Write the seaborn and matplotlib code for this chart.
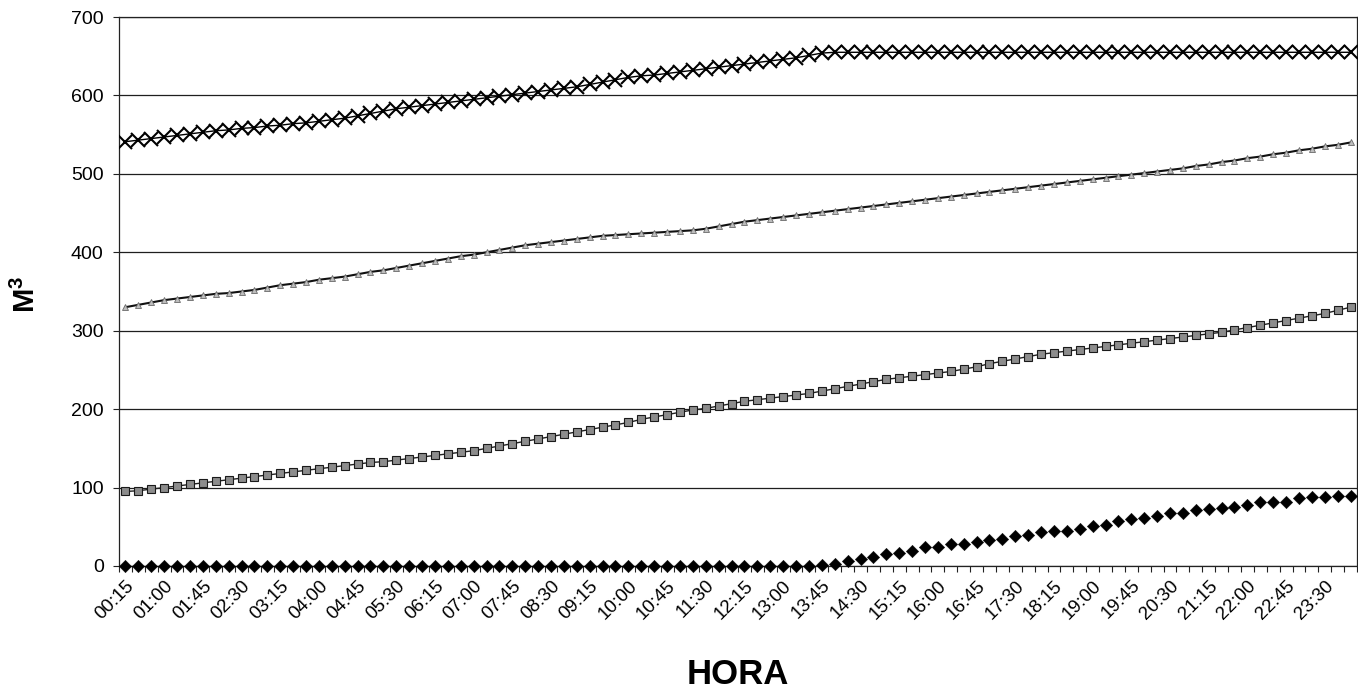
import numpy as np
import pandas as pd
import matplotlib
matplotlib.use("Agg")
import matplotlib.pyplot as plt
import seaborn as sns

# ---- data -------------------------------------------------------------
hora = [f"{(15 * (i + 1)) // 60 % 24:02d}:{(15 * (i + 1)) % 60:02d}" for i in range(96)]

serie_x = [541, 543, 545, 547, 549, 551, 553, 555, 556, 558, 559, 561,
           562, 564, 565, 567, 569, 571, 574, 577, 580, 583, 585, 587,
           589, 591, 593, 595, 597, 599, 601, 603, 605, 607, 609, 611,
           614, 617, 620, 623, 625, 626, 628, 630, 632, 634, 636, 638,
           640, 642, 644, 646, 648, 651, 654, 655, 655, 655, 655, 655,
           655, 655, 655, 655, 655, 655, 655, 655, 655, 655, 655, 655,
           655, 655, 655, 655, 655, 655, 655, 655, 655, 655, 655, 655,
           655, 655, 655, 655, 655, 655, 655, 655, 655, 655, 655, 655]

serie_tri = [330, 333, 336, 339, 341, 343, 345, 347, 348, 350, 352, 355,
             358, 360, 362, 365, 367, 369, 372, 375, 377, 380, 383, 386,
             389, 392, 395, 397, 400, 403, 406, 409, 411, 413, 415, 417,
             419, 421, 422, 423, 424, 425, 426, 427, 428, 430, 433, 436,
             439, 441, 443, 445, 447, 449, 451, 453, 455, 457, 459, 461,
             463, 465, 467, 469, 471, 473, 475, 477, 479, 481, 483, 485,
             487, 489, 491, 493, 495, 497, 499, 501, 503, 505, 507, 510,
             512, 515, 517, 520, 522, 525, 527, 530, 532, 535, 537, 540]

serie_sq = [95, 96, 98, 100, 102, 104, 106, 108, 110, 112, 114, 116,
            118, 120, 122, 124, 126, 128, 130, 132, 133, 135, 137, 139,
            141, 143, 145, 147, 150, 153, 156, 159, 162, 165, 168, 171,
            174, 177, 180, 183, 187, 190, 193, 196, 199, 201, 204, 207,
            210, 212, 214, 216, 218, 220, 223, 226, 229, 232, 235, 238,
            240, 242, 244, 246, 248, 251, 254, 258, 261, 264, 267, 270,
            272, 274, 276, 278, 280, 282, 284, 286, 288, 290, 292, 294,
            296, 298, 301, 304, 307, 310, 313, 316, 319, 322, 326, 330]

serie_dia = [0] * 54 + [1, 3, 6, 9, 12, 15, 17,
             19.5, 23.8, 24.7, 27.6, 28.1, 30.2, 32.7, 34, 38.3, 39.5, 43.4, 44.6,
             44.6, 47.6, 51, 52.7, 57.4, 59.5, 60.8, 63.3, 67.6, 67.2, 71.4, 73.1,
             73.5, 75.6, 77.4, 81.2, 81.6, 81.6, 86.3, 88, 88.4, 89.3, 89.7]

y_ticks = [0, 100, 200, 300, 400, 500, 600, 700]

df = pd.DataFrame({"idx": np.arange(len(hora)), "hora": hora,
                   "x": serie_x, "tri": serie_tri, "sq": serie_sq, "dia": serie_dia})

# ---- style -------------------------------------------------------------
sns.set_theme(style="white")
plt.rcParams["font.family"] = ["Liberation Sans", "DejaVu Sans"]
plt.rcParams["text.color"] = "black"
plt.rcParams["axes.labelcolor"] = "black"
plt.rcParams["xtick.color"] = "black"
plt.rcParams["ytick.color"] = "black"
plt.rcParams["mathtext.fontset"] = "custom"
plt.rcParams["mathtext.rm"] = "Liberation Sans"
plt.rcParams["mathtext.bf"] = "Liberation Sans:bold"

fig = plt.figure(figsize=(13.58, 6.96), dpi=100)
ax = fig.add_axes([119 / 1358, 1 - 566 / 696, (1357 - 119) / 1358, (566 - 17) / 696])
ax.set_facecolor("white")

sns.lineplot(data=df, x="idx", y="x", ax=ax, color="black", linewidth=1.0,
             marker="x", markersize=10, markeredgewidth=1.5,
             markeredgecolor="black", zorder=4)
sns.lineplot(data=df, x="idx", y="tri", ax=ax, color="#111111", linewidth=1.5,
             marker="^", markersize=4.8, markerfacecolor="#bdbdbd",
             markeredgecolor="#6a6a6a", markeredgewidth=0.6, zorder=3)
sns.lineplot(data=df, x="idx", y="sq", ax=ax, color="#222222", linewidth=1.0,
             marker="s", markersize=5.4, markerfacecolor="#8c8c8c",
             markeredgecolor="#1a1a1a", markeredgewidth=0.8, zorder=3)
sns.scatterplot(data=df, x="idx", y="dia", ax=ax, color="black", marker="D",
                s=40, edgecolor="black", linewidth=0.3, zorder=5, clip_on=False)

# ---- axes --------------------------------------------------------------
ax.set_xlim(-0.5, 95.5)
ax.set_ylim(0, 700)
ax.set_yticks(y_ticks)
ax.set_yticklabels([str(v) for v in y_ticks], fontsize=14)
ax.yaxis.grid(True, color="#1e1e1e", linewidth=0.9)
ax.xaxis.grid(False)
ax.set_axisbelow(True)

major = list(range(0, 96, 3))
ax.set_xticks(major)
ax.set_xticklabels([hora[i] for i in major], rotation=45, ha="right",
                   rotation_mode="anchor", fontsize=13.5)
ax.set_xticks(np.arange(-0.5, 96, 1), minor=True)
ax.tick_params(axis="x", which="major", length=0, pad=8)
ax.tick_params(axis="x", which="minor", length=4, width=0.8, color="#222222",
               direction="out", bottom=True)
ax.tick_params(axis="y", which="major", length=4, width=0.8, color="#222222",
               direction="out", left=True, pad=7)

for s in ax.spines.values():
    s.set_visible(True)
    s.set_color("#222222")
    s.set_linewidth(0.9)

ax.set_xlabel("HORA", fontsize=25, fontweight="bold", va="top")
ax.xaxis.set_label_coords(0.5, -0.168)
ax.set_ylabel(r"M$^\mathbf{3}$", fontsize=21, fontweight="bold")
ax.yaxis.set_label_coords(-0.063, 0.494)

fig.savefig("out.png", dpi=100, facecolor="white")
